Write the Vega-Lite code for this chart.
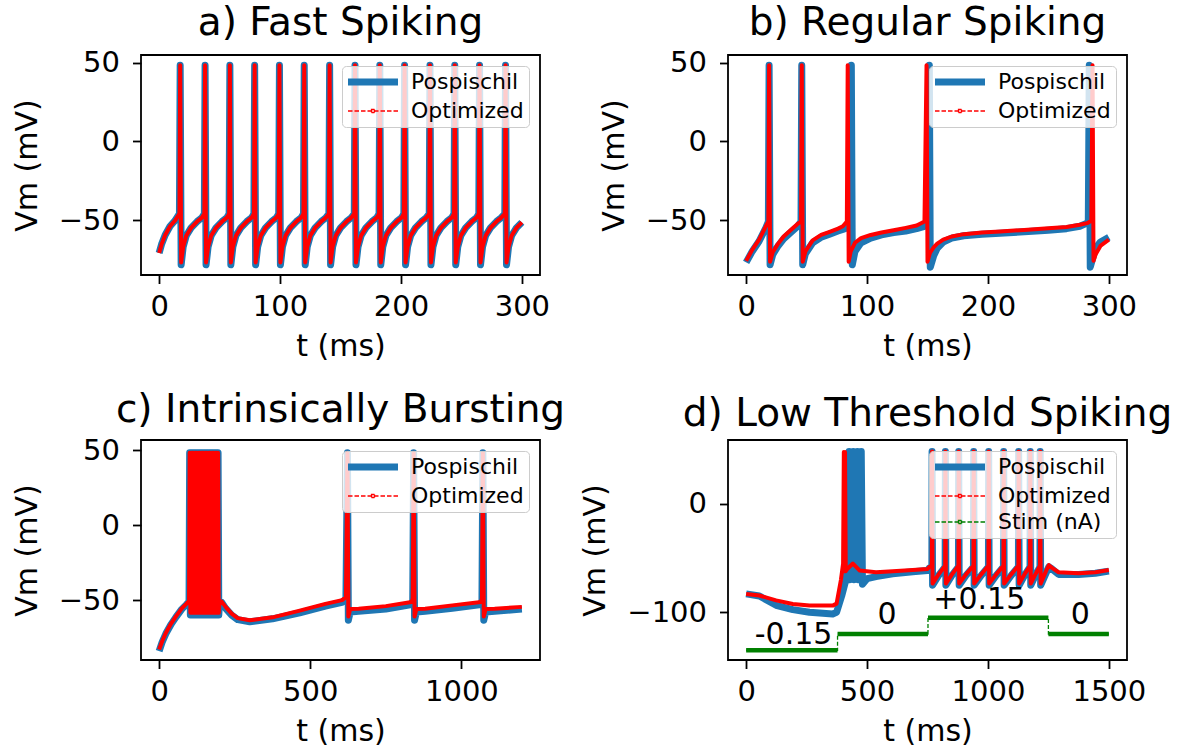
{
"$schema":"https://vega.github.io/schema/vega-lite/v6.json",
"background":"white",
"padding":{"left":11,"top":2,"right":5,"bottom":5},
"bounds":"flush",
"columns":2,
"spacing":{"row":165,"column":188},
"datasets":{
"a":[{"t":0,"p":-71,"o":-71},{"t":2,"p":-65.5,"o":-65.5},{"t":5,"p":-59.5,"o":-59.5},{"t":9,"p":-54,"o":-54},{"t":13,"p":-50.5,"o":-50.5},{"t":16.8,"p":-46,"o":-46},
{"t":17.4,"p":48.5,"o":48.5},{"t":18.2,"p":-78.5,"o":-77},{"t":19.9,"p":-67,"o":-67},{"t":22.4,"p":-60,"o":-60},{"t":26.4,"p":-55,"o":-55},{"t":31.4,"p":-51,"o":-51},{"t":35.4,"p":-48.5,"o":-48.5},{"t":37.4,"p":-46,"o":-46},
{"t":38,"p":48.5,"o":48.5},{"t":38.8,"p":-78.5,"o":-77},{"t":40.5,"p":-67,"o":-67},{"t":43,"p":-60,"o":-60},{"t":47,"p":-55,"o":-55},{"t":52,"p":-51,"o":-51},{"t":56,"p":-48.5,"o":-48.5},{"t":57.9,"p":-46,"o":-46},
{"t":58.5,"p":48.5,"o":48.5},{"t":59.3,"p":-78.5,"o":-77},{"t":61,"p":-67,"o":-67},{"t":63.5,"p":-60,"o":-60},{"t":67.5,"p":-55,"o":-55},{"t":72.5,"p":-51,"o":-51},{"t":76.5,"p":-48.5,"o":-48.5},{"t":78.4,"p":-46,"o":-46},
{"t":79,"p":48.5,"o":48.5},{"t":79.8,"p":-78.5,"o":-77},{"t":81.5,"p":-67,"o":-67},{"t":84,"p":-60,"o":-60},{"t":88,"p":-55,"o":-55},{"t":93,"p":-51,"o":-51},{"t":97,"p":-48.5,"o":-48.5},{"t":98.9,"p":-46,"o":-46},
{"t":99.5,"p":48.5,"o":48.5},{"t":100.3,"p":-78.5,"o":-77},{"t":102,"p":-67,"o":-67},{"t":104.5,"p":-60,"o":-60},{"t":108.5,"p":-55,"o":-55},{"t":113.5,"p":-51,"o":-51},{"t":117.5,"p":-48.5,"o":-48.5},{"t":119.4,"p":-46,"o":-46},
{"t":120,"p":48.5,"o":48.5},{"t":120.8,"p":-78.5,"o":-77},{"t":122.5,"p":-67,"o":-67},{"t":125,"p":-60,"o":-60},{"t":129,"p":-55,"o":-55},{"t":134,"p":-51,"o":-51},{"t":138,"p":-48.5,"o":-48.5},{"t":140.4,"p":-46,"o":-46},
{"t":141,"p":48.5,"o":48.5},{"t":141.8,"p":-78.5,"o":-77},{"t":143.5,"p":-67,"o":-67},{"t":146,"p":-60,"o":-60},{"t":150,"p":-55,"o":-55},{"t":155,"p":-51,"o":-51},{"t":159,"p":-48.5,"o":-48.5},{"t":161.4,"p":-46,"o":-46},
{"t":162,"p":48.5,"o":48.5},{"t":162.8,"p":-78.5,"o":-77},{"t":164.5,"p":-67,"o":-67},{"t":167,"p":-60,"o":-60},{"t":171,"p":-55,"o":-55},{"t":176,"p":-51,"o":-51},{"t":180,"p":-48.5,"o":-48.5},{"t":181.9,"p":-46,"o":-46},
{"t":182.5,"p":48.5,"o":48.5},{"t":183.3,"p":-78.5,"o":-77},{"t":185,"p":-67,"o":-67},{"t":187.5,"p":-60,"o":-60},{"t":191.5,"p":-55,"o":-55},{"t":196.5,"p":-51,"o":-51},{"t":200.5,"p":-48.5,"o":-48.5},{"t":202.4,"p":-46,"o":-46},
{"t":203,"p":48.5,"o":48.5},{"t":203.8,"p":-78.5,"o":-77},{"t":205.5,"p":-67,"o":-67},{"t":208,"p":-60,"o":-60},{"t":212,"p":-55,"o":-55},{"t":217,"p":-51,"o":-51},{"t":221,"p":-48.5,"o":-48.5},{"t":223.4,"p":-46,"o":-46},
{"t":224,"p":48.5,"o":48.5},{"t":224.8,"p":-78.5,"o":-77},{"t":226.5,"p":-67,"o":-67},{"t":229,"p":-60,"o":-60},{"t":233,"p":-55,"o":-55},{"t":238,"p":-51,"o":-51},{"t":242,"p":-48.5,"o":-48.5},{"t":243.9,"p":-46,"o":-46},
{"t":244.5,"p":48.5,"o":48.5},{"t":245.3,"p":-78.5,"o":-77},{"t":247,"p":-67,"o":-67},{"t":249.5,"p":-60,"o":-60},{"t":253.5,"p":-55,"o":-55},{"t":258.5,"p":-51,"o":-51},{"t":262.5,"p":-48.5,"o":-48.5},{"t":264.4,"p":-46,"o":-46},
{"t":265,"p":48.5,"o":48.5},{"t":265.8,"p":-78.5,"o":-77},{"t":267.5,"p":-67,"o":-67},{"t":270,"p":-60,"o":-60},{"t":274,"p":-55,"o":-55},{"t":279,"p":-51,"o":-51},{"t":283,"p":-48.5,"o":-48.5},{"t":285.9,"p":-46,"o":-46},
{"t":286.5,"p":48.5,"o":48.5},{"t":287.3,"p":-78.5,"o":-77},{"t":289,"p":-67,"o":-67},{"t":291.5,"p":-60,"o":-60},{"t":295.5,"p":-55,"o":-55},{"t":300,"p":-51.5,"o":-51.5}],
"b":[{"t":0,"p":-77,"o":-76},{"t":5,"p":-70,"o":-69},{"t":10.7,"p":-63.5,"o":-62.5},{"t":16.3,"p":-55,"o":-54},{"t":18.4,"p":-51,"o":-51},{"t":19,"p":48.5,"o":48.5},{"t":19.8,"p":-78.5,"o":-76.5},{"t":22,"p":-72,"o":-70.5},{"t":26,"p":-67,"o":-65.5},{"t":31,"p":-62,"o":-60.5},{"t":36,"p":-58.5,"o":-57},{"t":42.5,"p":-54,"o":-52.5},{"t":45.4,"p":-51,"o":-51},{"t":46,"p":48.5,"o":48.5},{"t":46.8,"p":-78.5,"o":-76.5},{"t":49,"p":-71.5,"o":-70},{"t":55,"p":-64.5,"o":-63},{"t":62,"p":-61,"o":-59.5},{"t":69,"p":-59,"o":-57.5},{"t":76,"p":-57,"o":-55.5},{"t":80,"p":-56,"o":-54},
{"t":83.3,"o":-51},{"t":84,"o":48.5},{"t":84.8,"o":-76.5},{"t":85.5,"p":-54.5},{"t":86.3,"p":-51},{"t":86.5,"o":-70},{"t":87,"p":48.5},{"t":87.8,"p":-78.5},
{"t":90,"p":-70,"o":-64.5},{"t":95,"p":-64.5,"o":-61.5},{"t":103,"p":-61.5,"o":-59.5},{"t":112,"p":-59.5,"o":-58},{"t":122,"p":-58,"o":-56.5},{"t":132,"p":-57,"o":-55},{"t":141,"p":-55.5,"o":-53.5},{"t":147.5,"p":-54,"o":-51},
{"t":149.2,"o":48.5},{"t":150,"o":-76.5},{"t":150.8,"p":-51},{"t":151.5,"p":48.5},{"t":152,"o":-71},{"t":152.3,"p":-80},
{"t":155,"p":-73,"o":-67.5},{"t":158,"p":-68,"o":-65},{"t":163,"p":-64,"o":-62.5},{"t":170,"p":-61.5,"o":-60.5},{"t":180,"p":-60,"o":-59},{"t":195,"p":-59,"o":-58},{"t":210,"p":-58.5,"o":-57.3},{"t":230,"p":-57.5,"o":-56.3},{"t":250,"p":-56.5,"o":-55.3},{"t":265,"p":-55.5,"o":-54.5},{"t":276,"p":-54,"o":-53},{"t":282,"p":-52,"o":-52},
{"t":283,"p":-50.5},{"t":283.8,"p":48.5},{"t":284.6,"p":-80},{"t":285.5,"o":-50.5},{"t":286.5,"o":48.5},{"t":287.3,"o":-76},
{"t":289,"p":-68,"o":-72},{"t":293,"p":-64,"o":-66.5},{"t":300,"p":-61,"o":-62.5}],
"c":[{"t":0,"p":-84,"o":-83},{"t":10,"p":-78,"o":-77.5},{"t":22,"p":-72.5,"o":-72},{"t":40,"p":-66,"o":-65.5},{"t":55,"p":-61.5,"o":-61},{"t":75,"p":-56,"o":-55.5},{"t":90,"p":-53,"o":-52.5},{"t":99,"p":-51,"o":-50.5},
{"t":101,"p":48.5,"o":48.5},{"t":103.3,"p":-60,"o":-58.5},{"t":105.7,"p":48.5,"o":48.5},{"t":108,"p":-60,"o":-58.5},{"t":110.4,"p":48.5,"o":48.5},{"t":112.7,"p":-60,"o":-58.5},{"t":115.1,"p":48.5,"o":48.5},{"t":117.4,"p":-60,"o":-58.5},{"t":119.8,"p":48.5,"o":48.5},{"t":122.1,"p":-60,"o":-58.5},{"t":124.5,"p":48.5,"o":48.5},{"t":126.8,"p":-60,"o":-58.5},{"t":129.2,"p":48.5,"o":48.5},{"t":131.5,"p":-60,"o":-58.5},{"t":133.9,"p":48.5,"o":48.5},{"t":136.2,"p":-60,"o":-58.5},{"t":138.6,"p":48.5,"o":48.5},{"t":140.9,"p":-60,"o":-58.5},{"t":143.3,"p":48.5,"o":48.5},{"t":145.6,"p":-60,"o":-58.5},{"t":148,"p":48.5,"o":48.5},{"t":150.3,"p":-60,"o":-58.5},{"t":152.7,"p":48.5,"o":48.5},{"t":155,"p":-60,"o":-58.5},{"t":157.4,"p":48.5,"o":48.5},{"t":159.7,"p":-60,"o":-58.5},{"t":162.1,"p":48.5,"o":48.5},{"t":164.4,"p":-60,"o":-58.5},{"t":166.8,"p":48.5,"o":48.5},{"t":169.1,"p":-60,"o":-58.5},{"t":171.5,"p":48.5,"o":48.5},{"t":173.8,"p":-60,"o":-58.5},{"t":176.2,"p":48.5,"o":48.5},{"t":178.5,"p":-60,"o":-58.5},{"t":180.9,"p":48.5,"o":48.5},{"t":183.2,"p":-60,"o":-58.5},{"t":185.6,"p":48.5,"o":48.5},{"t":187.9,"p":-60,"o":-58.5},{"t":190.3,"p":48.5,"o":48.5},{"t":192.6,"p":-60,"o":-58.5},{"t":195,"p":48.5,"o":48.5},{"t":197.3,"p":-60,"o":-58.5},
{"t":200,"p":-51,"o":-50.5},{"t":207,"p":-51.5,"o":-51},{"t":220,"p":-55.5,"o":-54.5},{"t":240,"p":-60,"o":-59},{"t":260,"p":-63,"o":-62},{"t":300,"p":-64.5,"o":-63.5},{"t":375,"p":-62.5,"o":-61.5},{"t":465,"p":-58.5,"o":-57},{"t":550,"p":-54,"o":-52.5},{"t":605,"p":-51.5,"o":-50},{"t":618,"p":-49,"o":-48},
{"t":623,"p":48.5,"o":48.5},{"t":626,"p":-63.5,"o":-61},{"t":632,"p":-58,"o":-56},{"t":660,"p":-57.5,"o":-55.8},{"t":750,"p":-56,"o":-54},{"t":835,"p":-53,"o":-51.3},{"t":839,"p":-50,"o":-49},
{"t":842,"p":48.5,"o":48.5},{"t":845,"p":-63.5,"o":-61},{"t":851,"p":-58,"o":-56},{"t":880,"p":-57.5,"o":-55.8},{"t":970,"p":-55.5,"o":-53.5},{"t":1065,"p":-53,"o":-51.3},{"t":1068,"p":-50,"o":-49},
{"t":1071,"p":48.5,"o":48.5},{"t":1074,"p":-63.5,"o":-61},{"t":1080,"p":-58,"o":-56},{"t":1110,"p":-57.5,"o":-55.8},{"t":1200,"p":-56,"o":-54.5}],
"d":[{"t":0,"p":-83,"o":-83},{"t":55,"p":-85,"o":-84.5},{"t":124,"p":-93.5,"o":-89},{"t":193,"p":-97.5,"o":-92.3},{"t":262,"p":-100,"o":-93.8},{"t":358,"p":-101.5,"o":-93.8},{"t":374,"p":-100,"o":-92},
{"t":392,"o":-70},{"t":401,"o":-55},{"t":404,"o":48},{"t":406,"o":-62},{"t":409,"o":48},{"t":412,"o":-62},{"t":395,"p":-85},{"t":415,"p":-68},{"t":418,"o":-60},{"t":426,"p":48.5},{"t":429,"p":-70},{"t":441,"p":-60},{"t":443,"p":48.5},{"t":446,"p":-70},{"t":441.5,"o":-55},{"t":458,"p":-60},{"t":460,"p":48.5},{"t":463,"p":-70},{"t":470,"o":-61.5},{"t":474,"p":-60},{"t":476,"p":48.5},{"t":481,"p":-74},{"t":500,"p":-69},
{"t":537,"p":-67,"o":-63},{"t":606,"p":-64.5,"o":-62},{"t":689,"p":-62.5,"o":-61},{"t":750,"p":-61.5,"o":-60},{"t":758,"p":-59,"o":-58},
{"t":768,"p":-58,"o":-57},{"t":769,"p":48.5,"o":48.5},{"t":771,"p":-75,"o":-73.5},{"t":796,"p":-66,"o":-65},
{"t":823,"p":-58,"o":-57},{"t":824,"p":48.5,"o":48.5},{"t":826,"p":-75,"o":-73.5},{"t":851,"p":-66,"o":-65},
{"t":878,"p":-58,"o":-57},{"t":879,"p":48.5,"o":48.5},{"t":881,"p":-75,"o":-73.5},{"t":909,"p":-66,"o":-65},
{"t":940,"p":-58,"o":-57},{"t":941,"p":48.5,"o":48.5},{"t":943,"p":-75,"o":-73.5},{"t":972,"p":-66,"o":-65},
{"t":1002,"p":-58,"o":-57},{"t":1003,"p":48.5,"o":48.5},{"t":1005,"p":-75,"o":-73.5},{"t":1034,"p":-66,"o":-65},
{"t":1064,"p":-58,"o":-57},{"t":1065,"p":48.5,"o":48.5},{"t":1067,"p":-75,"o":-73.5},{"t":1096,"p":-66,"o":-65},
{"t":1126,"p":-58,"o":-57},{"t":1127,"p":48.5,"o":48.5},{"t":1129,"p":-75,"o":-73.5},{"t":1151,"p":-66,"o":-65},
{"t":1174,"p":-58,"o":-57},{"t":1175,"p":48.5,"o":48.5},{"t":1177,"p":-75,"o":-73.5},{"t":1196,"p":-66,"o":-65},
{"t":1215,"p":-58,"o":-57},{"t":1216,"p":48.5,"o":48.5},{"t":1218,"p":-75,"o":-73.5},
{"t":1240,"p":-64,"o":-62},{"t":1252,"p":-58,"o":-56.5},{"t":1265,"p":-60,"o":-59},{"t":1292,"p":-65,"o":-63},{"t":1375,"p":-65,"o":-64},{"t":1444,"p":-64,"o":-63},{"t":1500,"p":-62,"o":-61}],
"stim":[{"t":0,"v":-135},{"t":378,"v":-135},{"t":378,"v":-120},{"t":752,"v":-120},{"t":752,"v":-105},{"t":1250,"v":-105},{"t":1250,"v":-120},{"t":1500,"v":-120}],
"seg":[{"t0":0,"t1":378,"v":-135},{"t0":378,"t1":752,"v":-120},{"t0":752,"t1":1250,"v":-105},{"t0":1250,"t1":1500,"v":-120}],
"lab":[{"t":196,"v":-129,"label":"-0.15"},{"t":583,"v":-111,"label":"0"},{"t":964,"v":-97,"label":"+0.15"},{"t":1382,"v":-111,"label":"0"}]
},
"concat":[
{"width":399,"height":220,"title":"a) Fast Spiking","data":{"name":"a"},
"layer":[
{"mark":{"type":"line","strokeWidth":7,"strokeJoin":"round","strokeCap":"butt","invalid":"filter"},
"encoding":{"x":{"field":"t","type":"quantitative","title":"t (ms)","scale":{"domain":[-15,315],"nice":false,"zero":false},"axis":{"values":[0,100,200,300],"format":"d"}},
"y":{"field":"p","type":"quantitative","title":"Vm (mV)","scale":{"domain":[-85,55],"nice":false,"zero":false},"axis":{"values":[-50,0,50]}},
"color":{"datum":"Pospischil","type":"nominal","scale":{"domain":["Pospischil","Optimized"],"range":["#1f77b4","#ff0000"]},
"legend":{"title":null,"encode":{"symbols":{"update":{"shape":{"signal":"datum.value === 'Pospischil' ? 'M-1,0L4,0' : 'M-1,0H-0.55M-0.35,0H0.1M0.3,0H0.75M0.95,0H1.35M1.35,-0.15H1.65V0.15H1.35ZM1.65,0H2.05M2.25,0H2.7M2.9,0H3.35M3.55,0H4'"},"strokeWidth":{"signal":"datum.value === 'Pospischil' ? 7 : 1.3"},"strokeDash":{"value":[1,0]},"fill":{"value":"transparent"},"strokeCap":{"value":"butt"}}}}}}}},
{"mark":{"type":"line","strokeWidth":4,"strokeJoin":"round","strokeCap":"butt","invalid":"filter"},
"encoding":{"x":{"field":"t","type":"quantitative","title":"t (ms)"},"y":{"field":"o","type":"quantitative","title":"Vm (mV)"},"color":{"datum":"Optimized","type":"nominal"}}}
]},
{"width":399,"height":220,"title":"b) Regular Spiking","data":{"name":"b"},
"layer":[
{"mark":{"type":"line","strokeWidth":7,"strokeJoin":"round","strokeCap":"butt","invalid":"filter"},
"encoding":{"x":{"field":"t","type":"quantitative","title":"t (ms)","scale":{"domain":[-15,315],"nice":false,"zero":false},"axis":{"values":[0,100,200,300],"format":"d"}},
"y":{"field":"p","type":"quantitative","title":"Vm (mV)","scale":{"domain":[-85,55],"nice":false,"zero":false},"axis":{"values":[-50,0,50]}},
"color":{"datum":"Pospischil","type":"nominal","scale":{"domain":["Pospischil","Optimized"],"range":["#1f77b4","#ff0000"]},
"legend":{"title":null,"encode":{"symbols":{"update":{"shape":{"signal":"datum.value === 'Pospischil' ? 'M-1,0L4,0' : 'M-1,0H-0.55M-0.35,0H0.1M0.3,0H0.75M0.95,0H1.35M1.35,-0.15H1.65V0.15H1.35ZM1.65,0H2.05M2.25,0H2.7M2.9,0H3.35M3.55,0H4'"},"strokeWidth":{"signal":"datum.value === 'Pospischil' ? 7 : 1.3"},"strokeDash":{"value":[1,0]},"fill":{"value":"transparent"},"strokeCap":{"value":"butt"}}}}}}}},
{"mark":{"type":"line","strokeWidth":4,"strokeJoin":"round","strokeCap":"butt","invalid":"filter"},
"encoding":{"x":{"field":"t","type":"quantitative","title":"t (ms)"},"y":{"field":"o","type":"quantitative","title":"Vm (mV)"},"color":{"datum":"Optimized","type":"nominal"}}}
]},
{"width":399,"height":220,"title":"c) Intrinsically Bursting","data":{"name":"c"},
"layer":[
{"mark":{"type":"line","strokeWidth":7,"strokeJoin":"round","strokeCap":"butt","invalid":"filter"},
"encoding":{"x":{"field":"t","type":"quantitative","title":"t (ms)","scale":{"domain":[-60,1260],"nice":false,"zero":false},"axis":{"values":[0,500,1000],"format":"d"}},
"y":{"field":"p","type":"quantitative","title":"Vm (mV)","scale":{"domain":[-90,57],"nice":false,"zero":false},"axis":{"values":[-50,0,50]}},
"color":{"datum":"Pospischil","type":"nominal","scale":{"domain":["Pospischil","Optimized"],"range":["#1f77b4","#ff0000"]},
"legend":{"title":null,"encode":{"symbols":{"update":{"shape":{"signal":"datum.value === 'Pospischil' ? 'M-1,0L4,0' : 'M-1,0H-0.55M-0.35,0H0.1M0.3,0H0.75M0.95,0H1.35M1.35,-0.15H1.65V0.15H1.35ZM1.65,0H2.05M2.25,0H2.7M2.9,0H3.35M3.55,0H4'"},"strokeWidth":{"signal":"datum.value === 'Pospischil' ? 7 : 1.3"},"strokeDash":{"value":[1,0]},"fill":{"value":"transparent"},"strokeCap":{"value":"butt"}}}}}}}},
{"mark":{"type":"line","strokeWidth":4,"strokeJoin":"round","strokeCap":"butt","invalid":"filter"},
"encoding":{"x":{"field":"t","type":"quantitative","title":"t (ms)"},"y":{"field":"o","type":"quantitative","title":"Vm (mV)"},"color":{"datum":"Optimized","type":"nominal"}}}
]},
{"width":399,"height":220,"title":"d) Low Threshold Spiking",
"layer":[
{"data":{"name":"d"},"mark":{"type":"line","strokeWidth":7,"strokeJoin":"round","strokeCap":"butt","invalid":"filter"},
"encoding":{"x":{"field":"t","type":"quantitative","title":"t (ms)","scale":{"domain":[-75,1575],"nice":false,"zero":false},"axis":{"values":[0,500,1000,1500],"format":"d"}},
"y":{"field":"p","type":"quantitative","title":"Vm (mV)","scale":{"domain":[-144,59],"nice":false,"zero":false},"axis":{"values":[-100,0]}},
"color":{"datum":"Pospischil","type":"nominal","scale":{"domain":["Pospischil","Optimized","Stim (nA)"],"range":["#1f77b4","#ff0000","#008000"]},
"legend":{"title":null,"encode":{"symbols":{"update":{"shape":{"signal":"datum.value === 'Pospischil' ? 'M-1,0L4,0' : 'M-1,0H-0.55M-0.35,0H0.1M0.3,0H0.75M0.95,0H1.35M1.35,-0.15H1.65V0.15H1.35ZM1.65,0H2.05M2.25,0H2.7M2.9,0H3.35M3.55,0H4'"},"strokeWidth":{"signal":"datum.value === 'Pospischil' ? 7 : 1.3"},"strokeDash":{"value":[1,0]},"fill":{"value":"transparent"},"strokeCap":{"value":"butt"}}}}}}}},
{"data":{"name":"d"},"mark":{"type":"line","strokeWidth":4,"strokeJoin":"round","strokeCap":"butt","invalid":"filter"},
"encoding":{"x":{"field":"t","type":"quantitative","title":"t (ms)"},"y":{"field":"o","type":"quantitative","title":"Vm (mV)"},"color":{"datum":"Optimized","type":"nominal"}}},
{"data":{"name":"stim"},"mark":{"type":"line","strokeWidth":1.3,"strokeDash":[4,2]},
"encoding":{"x":{"field":"t","type":"quantitative","title":"t (ms)"},"y":{"field":"v","type":"quantitative","title":"Vm (mV)"},"order":{"value":null},"color":{"datum":"Stim (nA)","type":"nominal"}}},
{"data":{"name":"seg"},"mark":{"type":"rule","strokeWidth":4.5,"color":"#008000","strokeCap":"butt"},
"encoding":{"x":{"field":"t0","type":"quantitative","title":"t (ms)"},"x2":{"field":"t1"},"y":{"field":"v","type":"quantitative","title":"Vm (mV)"}}},
{"data":{"name":"lab"},"mark":{"type":"text","fontSize":30,"font":"DejaVu Sans","color":"black","align":"center","baseline":"alphabetic"},
"encoding":{"x":{"field":"t","type":"quantitative","title":"t (ms)"},"y":{"field":"v","type":"quantitative","title":"Vm (mV)"},"text":{"field":"label"}}}
]}
],
"resolve":{"scale":{"x":"independent","y":"independent","color":"independent"},"axis":{"x":"independent","y":"independent"},"legend":{"color":"independent"}},
"config":{
"font":"DejaVu Sans",
"view":{"stroke":"black","strokeWidth":1.8},
"title":{"font":"DejaVu Sans","fontSize":39,"fontWeight":"normal","color":"black","anchor":"middle","offset":6},
"axis":{"domain":false,"grid":false,"ticks":true,"tickColor":"black","tickWidth":1.8,"tickSize":8.5,"labelFont":"DejaVu Sans","labelFontSize":29,"labelColor":"black","labelPadding":6,"labelFlush":false,"labelOverlap":false,"titleFont":"DejaVu Sans","titleFontSize":30,"titleFontWeight":"normal","titleColor":"black"},
"axisX":{"labelPadding":9,"titlePadding":10},
"axisY":{"labelPadding":13,"titlePadding":16},
"legend":{"orient":"top-right","offset":11,"padding":5,"fillColor":"rgba(255,255,255,0.8)","strokeColor":"#cccccc","cornerRadius":4,"symbolSize":400,"labelFont":"DejaVu Sans","labelFontSize":22,"labelColor":"black","labelOffset":42,"rowPadding":4,"labelLimit":300}
}
}
